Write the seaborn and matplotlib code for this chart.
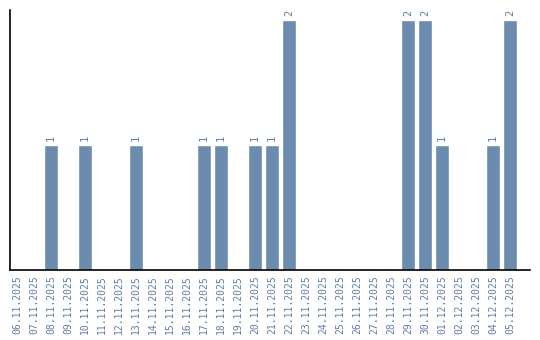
import matplotlib
matplotlib.use("Agg")
import matplotlib.pyplot as plt
import seaborn as sns
import pandas as pd

dates = ["06.11.2025", "07.11.2025", "08.11.2025", "09.11.2025", "10.11.2025",
         "11.11.2025", "12.11.2025", "13.11.2025", "14.11.2025", "15.11.2025",
         "16.11.2025", "17.11.2025", "18.11.2025", "19.11.2025", "20.11.2025",
         "21.11.2025", "22.11.2025", "23.11.2025", "24.11.2025", "25.11.2025",
         "26.11.2025", "27.11.2025", "28.11.2025", "29.11.2025", "30.11.2025",
         "01.12.2025", "02.12.2025", "03.12.2025", "04.12.2025", "05.12.2025"]
counts = [0, 0, 1, 0, 1, 0, 0, 1, 0, 0, 0, 1, 1, 0, 1, 1, 2, 0, 0, 0,
          0, 0, 0, 2, 2, 1, 0, 0, 1, 2]

df = pd.DataFrame({"date": dates, "count": counts})

sns.set_style("white")
plt.rcParams["font.family"] = ["DejaVu Sans Mono", "DejaVu Sans"]

bar_color = "#6b8cae"
text_color = "#5b7fa6"

fig = plt.figure(figsize=(5.4, 3.4), dpi=100)
ax = fig.add_axes([10/540, 70/340, 520/540, 260/340])
sns.barplot(data=df, x="date", y="count", color=bar_color, width=0.86,
            saturation=1, ax=ax)

for i, v in enumerate(counts):
    if v > 0:
        ax.text(i, v + 0.03, str(v), rotation=90, ha="center", va="bottom",
                fontsize=7.5, color=text_color)

ax.set_xlim(-0.41, 30.18)
ax.set_ylim(0, 2.08)
ax.set_xlabel("")
ax.set_ylabel("")
ax.set_yticks([])
ax.tick_params(axis="x", length=0, pad=4, labelsize=7, labelcolor=text_color,
               rotation=90)
for s in ["top", "right"]:
    ax.spines[s].set_visible(False)
for s in ["left", "bottom"]:
    ax.spines[s].set_color("black")
    ax.spines[s].set_linewidth(1.2)

fig.savefig("out.png", dpi=100)
